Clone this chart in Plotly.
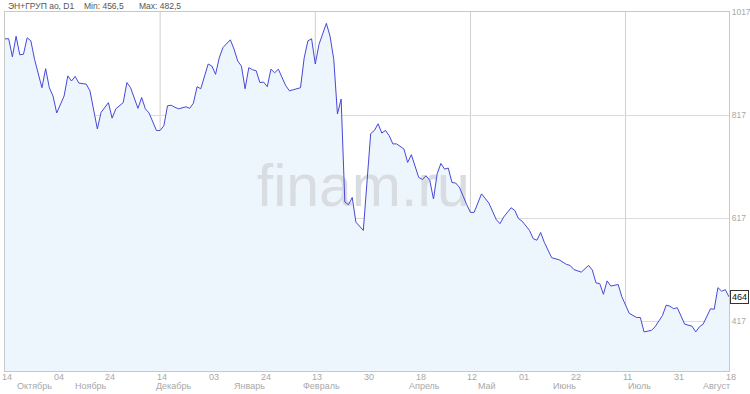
import plotly.graph_objects as go

# trading-day index (0 = 14 Oct) and close values
day_index = [0, 1, 2, 3, 4, 5, 6, 7, 8, 10, 11, 12, 13, 14, 16, 17, 18, 19, 20, 22, 23, 25, 26, 28, 29, 30,
             32, 33, 34, 36, 37, 38, 39, 41, 42, 43, 44, 45, 46, 47, 49, 50, 51, 52, 53, 55, 56, 57, 58, 59,
             61, 62, 63, 64, 65, 66, 67, 68, 69, 70, 71, 72, 73, 74, 76, 77, 78, 80, 81, 82, 83, 84, 85, 86,
             87, 88, 89, 90, 91, 92, 93, 94, 95, 97, 99, 100, 101, 102, 103, 104, 105, 106, 108, 109, 110,
             112, 113, 114, 115, 116, 117, 118, 119, 120, 121, 122, 123, 125, 126, 127, 129, 131, 133, 134,
             135, 137, 138, 139, 140, 142, 143, 144, 145, 146, 148, 150, 152, 153, 154, 156, 158, 159, 160,
             161, 162, 163, 164, 166, 167, 169, 171, 172, 173, 175, 176, 178, 179, 180, 181, 182, 183, 184,
             186, 187, 188, 189, 191, 192, 193, 194, 195, 196]
close = [965, 965, 930, 970, 934, 935, 967, 961, 925, 870, 907, 870, 854, 821, 854, 893, 883, 892, 879,
         877, 864, 790, 822, 841, 811, 829, 841, 880, 870, 830, 851, 829, 821, 787, 787, 796, 835, 836, 832,
         829, 833, 830, 840, 872, 868, 916, 912, 896, 928, 948, 963, 945, 922, 912, 868, 909, 905, 903, 880,
         881, 872, 906, 899, 906, 874, 864, 866, 870, 928, 961, 965, 916, 954, 974, 995, 970, 925, 819, 848,
         648, 643, 657, 609, 593, 781, 787, 800, 782, 787, 777, 761, 761, 751, 725, 740, 696, 692, 699, 690,
         654, 703, 723, 712, 714, 686, 685, 677, 643, 628, 628, 664, 646, 614, 606, 619, 637, 632, 616, 611,
         593, 577, 574, 589, 570, 540, 536, 527, 525, 517, 512, 525, 516, 491, 490, 469, 495, 485, 488, 464,
         432, 424, 424, 396, 399, 406, 428, 448, 446, 441, 443, 428, 411, 407, 396, 406, 411, 441, 440, 482,
         475, 478, 464]

tick_index = [0, 14, 28, 42, 56, 70, 84, 98, 112, 126, 140, 154, 168, 182, 196]
tick_text = ["14", "04", "24", "14", "03", "24", "13", "30", "18", "12", "01", "22", "11", "31", "18"]
month_pos = [8.1, 23.3, 45.5, 66.1, 85.8, 113.7, 130.5, 151.6, 171.9, 192.7]
month_names = ["Октябрь", "Ноябрь", "Декабрь", "Январь", "Февраль", "Апрель", "Май", "Июнь", "Июль", "Август"]
y_ticks = [417, 617, 817, 1017]
last_price = 464
title_parts = ["ЭН+ГРУП ао, D1", "Min: 456,5", "Max: 482,5"]

FONT = "Liberation Sans, Arial, sans-serif"
GRID = "#dcdcdc"
LABEL = "#a8a8a8"

fig = go.Figure()
fig.add_trace(go.Scatter(x=day_index, y=close, mode="lines", line=dict(width=0),
                         fill="tozeroy", fillcolor="#edf5fd", hoverinfo="skip"))
fig.add_trace(go.Scatter(x=[(tick_index[0] + tick_index[-1]) / 2 - 1], y=[670], mode="text",
                         text=["finam.ru"], textposition="middle center",
                         textfont=dict(family=FONT, size=59, color="#d9dce1"), hoverinfo="skip"))
fig.add_trace(go.Scatter(x=day_index, y=close, mode="lines",
                         line=dict(color="#4848d6", width=1), hoverinfo="skip"))

for i in range(3, len(tick_index) - 1, 3):
    fig.add_shape(type="line", xref="x", yref="paper", x0=tick_index[i], x1=tick_index[i],
                  y0=0, y1=1, line=dict(color="#cfcfcf", width=1), layer="below")

for pos, t in zip(tick_index, tick_text):
    fig.add_annotation(x=pos, y=0, xref="x", yref="paper", text=t, showarrow=False,
                       yanchor="middle", yshift=-5.5, xshift=2,
                       font=dict(family=FONT, size=9, color=LABEL))

for pos, name in zip(month_pos, month_names):
    fig.add_annotation(x=pos, y=0, xref="x", yref="paper", text=name, showarrow=False,
                       yanchor="middle", yshift=-15, font=dict(family=FONT, size=9, color=LABEL))

title_x = [1, 77, 132]
for tx, t in zip(title_x, title_parts):
    fig.add_annotation(x=0, y=1, xref="paper", yref="paper", text=t, showarrow=False,
                       xanchor="left", yanchor="middle", xshift=tx, yshift=6,
                       font=dict(family=FONT, size=8.5, color="#555555"))

fig.add_annotation(x=1, y=last_price, xref="paper", yref="y", text=str(last_price), showarrow=False,
                   xanchor="left", yanchor="middle", xshift=1, bgcolor="white",
                   bordercolor="#333333", borderwidth=1, borderpad=1,
                   font=dict(family=FONT, size=9, color="#111111"))

fig.update_layout(
    width=750, height=394, margin=dict(l=5, r=21, t=12, b=23),
    paper_bgcolor="white", plot_bgcolor="white", showlegend=False,
    xaxis=dict(range=[0, 196], showticklabels=False, showgrid=False, automargin=False,
               zeroline=False, showline=True, linecolor="#c8c8c8", mirror=True, ticks=""),
    yaxis=dict(range=[320.1, 1017], side="right", tickvals=y_ticks, showgrid=True, automargin=False,
               gridcolor=GRID, zeroline=False, showline=True, linecolor="#c8c8c8", mirror=True,
               tickfont=dict(family=FONT, size=8.5, color=LABEL), ticks=""),
)

fig.write_html("out.html")
